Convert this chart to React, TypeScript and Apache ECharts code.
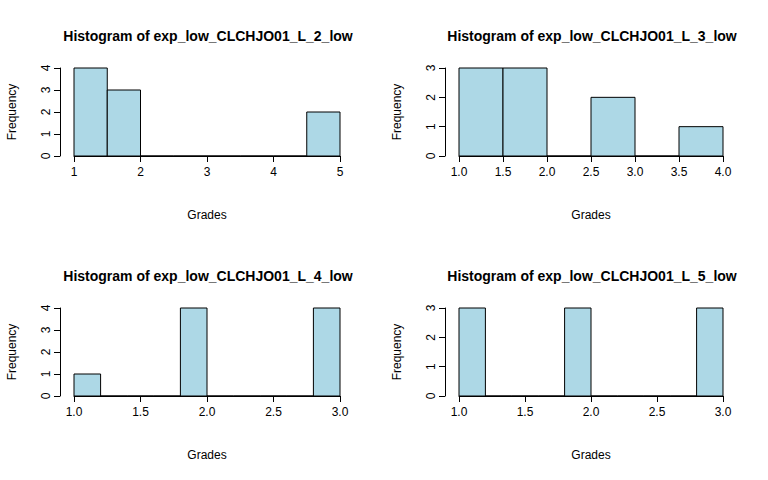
import { useEffect, useRef } from 'react';
import * as echarts from 'echarts';

// histogram panels: bin starts, bin width, counts
const titles = [
  'Histogram of exp_low_CLCHJO01_L_2_low',
  'Histogram of exp_low_CLCHJO01_L_3_low',
  'Histogram of exp_low_CLCHJO01_L_4_low',
  'Histogram of exp_low_CLCHJO01_L_5_low',
];
const binStart = [1, 1, 1, 1];
const binWidth = [0.5, 0.5, 0.2, 0.2];
const counts1 = [4, 3, 0, 0, 0, 0, 0, 2];
const counts2 = [3, 3, 0, 2, 0, 1];
const counts3 = [1, 0, 0, 0, 4, 0, 0, 0, 0, 4];
const counts4 = [3, 0, 0, 0, 3, 0, 0, 0, 0, 3];
const allCounts = [counts1, counts2, counts3, counts4];
const xRanges = [[1, 5, 1], [1, 4, 0.5], [1, 3, 0.5], [1, 3, 0.5]];
const yMax = [4, 3, 4, 3];

const FONT = 'Liberation Sans, Arial, sans-serif';
const grids = [
  { left: 74, top: 68, width: 266, height: 88 },
  { left: 459, top: 68, width: 264, height: 88 },
  { left: 74, top: 308, width: 266, height: 88 },
  { left: 459, top: 308, width: 264, height: 88 },
];

function App() {
  const ref = useRef<HTMLDivElement>(null);
  useEffect(() => {
    const chart = echarts.init(ref.current!, null, { renderer: 'svg' });
    const axisCommon = {
      axisLine: { show: true, lineStyle: { color: '#000', width: 1 } },
      axisTick: { show: true, length: 6, lineStyle: { color: '#000' } },
      splitLine: { show: false },
    };
    const xAxis = xRanges.map((r, i) => ({
      ...axisCommon,
      type: 'value', gridIndex: i, min: r[0], max: r[1], interval: r[2],
      offset: 0,
      axisLabel: {
        color: '#000', fontFamily: FONT, fontSize: 12, margin: 10,
        formatter: (v: number) => (r[2] < 1 ? v.toFixed(1) : String(v)),
      },
      name: 'Grades', nameLocation: 'middle', nameGap: 53,
      nameTextStyle: { color: '#000', fontFamily: FONT, fontSize: 12 },
    }));
    const yAxis = yMax.map((m, i) => ({
      ...axisCommon,
      type: 'value', gridIndex: i, min: 0, max: m, interval: 1,
      offset: 14,
      axisLabel: { color: '#000', fontFamily: FONT, fontSize: 12, rotate: 90, margin: 8 },
      name: 'Frequency', nameLocation: 'middle', nameGap: 42,
      nameTextStyle: { color: '#000', fontFamily: FONT, fontSize: 12 },
    }));
    const series = allCounts.map((c, i) => ({
      type: 'custom',
      xAxisIndex: i, yAxisIndex: i,
      data: c.map((v, k) => [binStart[i] + k * binWidth[i], binStart[i] + (k + 1) * binWidth[i], v]),
      renderItem: (_p: any, api: any) => {
        const p0 = api.coord([api.value(0), api.value(2)]);
        const p1 = api.coord([api.value(1), 0]);
        return {
          type: 'rect',
          shape: { x: p0[0], y: p0[1], width: p1[0] - p0[0], height: p1[1] - p0[1] },
          style: { fill: '#add8e6', stroke: '#000', lineWidth: 1 },
        };
      },
    }));
    chart.setOption({
      animation: false,
      backgroundColor: '#fff',
      title: titles.map((t, i) => ({
        text: t,
        left: grids[i].left + grids[i].width / 2 - 4,
        textAlign: 'center',
        top: i < 2 ? 24 : 264,
        textStyle: { fontFamily: FONT, fontSize: 14, fontWeight: 'bold', color: '#000' },
      })),
      grid: grids,
      xAxis, yAxis, series,
    });
    return () => chart.dispose();
  }, []);
  return <div ref={ref} style={{ width: 768, height: 480, position: 'absolute', left: 0, top: 0 }} />;
}

export default App;
